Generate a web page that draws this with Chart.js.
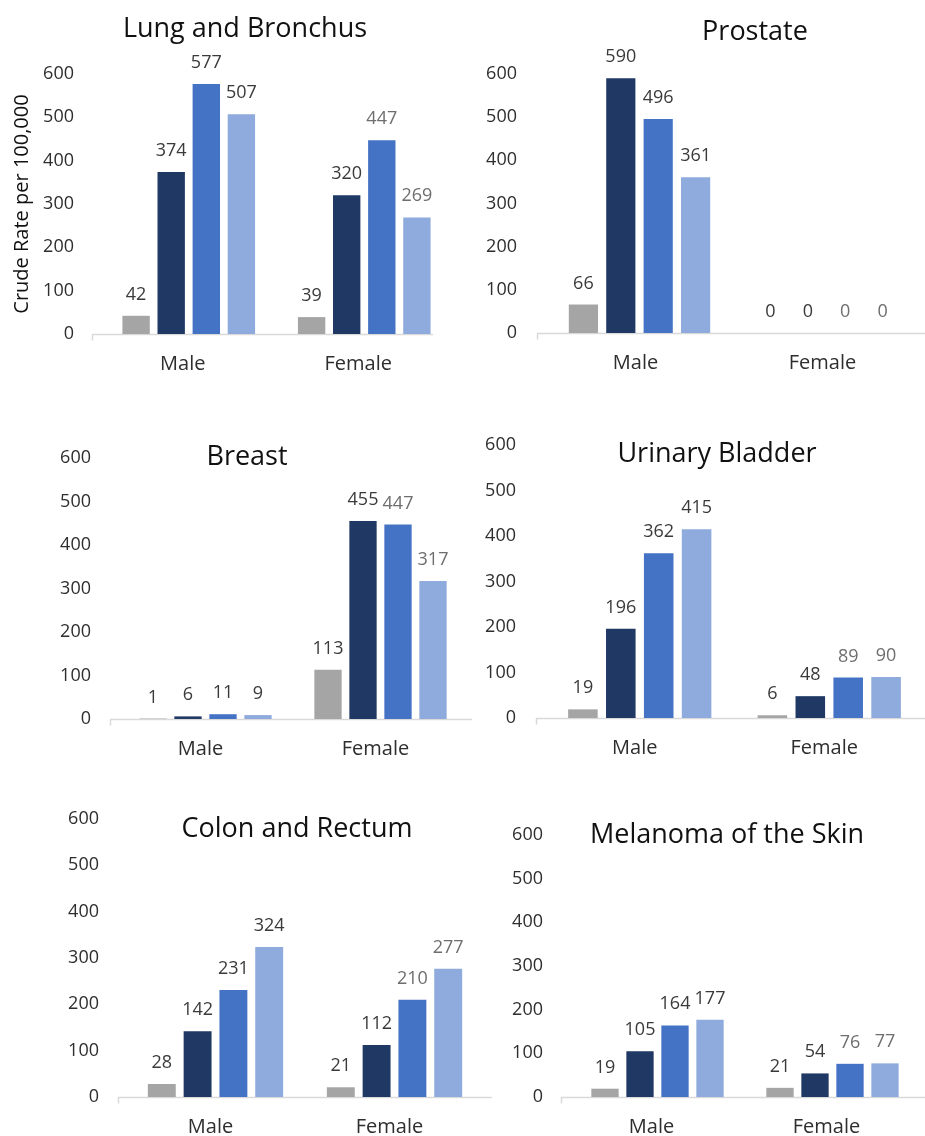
<!DOCTYPE html>
<html>
<head>
<meta charset="utf-8">
<script src="https://cdn.jsdelivr.net/npm/chart.js@4"></script>
<style>
  html, body { margin: 0; background: #fff; overflow: hidden; }
  #wrap { position: relative; width: 925px; height: 1136px; overflow: hidden; }
  #wrap canvas { position: absolute; left: 0; top: 0; }
</style>
</head>
<body>
<div id="wrap">
  <canvas id="c1" width="925" height="1180"></canvas>
  <canvas id="c2" width="925" height="1180"></canvas>
  <canvas id="c3" width="925" height="1180"></canvas>
  <canvas id="c4" width="925" height="1180"></canvas>
  <canvas id="c5" width="925" height="1180"></canvas>
  <canvas id="c6" width="925" height="1180"></canvas>
</div>
<script>
// categories and values (4 series per sex)
const sexes = ['Male', 'Female'];
const yTicks = [0, 100, 200, 300, 400, 500, 600];

const lungMale = [42, 374, 577, 507];
const lungFemale = [39, 320, 447, 269];
const prostateMale = [66, 590, 496, 361];
const prostateFemale = [0, 0, 0, 0];
const breastMale = [1, 6, 11, 9];
const breastFemale = [113, 455, 447, 317];
const bladderMale = [19, 196, 362, 415];
const bladderFemale = [6, 48, 89, 90];
const colonMale = [28, 142, 231, 324];
const colonFemale = [21, 112, 210, 277];
const melanomaMale = [19, 105, 164, 177];
const melanomaFemale = [21, 54, 76, 77];

const seriesColors = ['#a5a5a5', '#203864', '#4472c4', '#8faadc'];
// value label colour per series: [male, female]
const labelColors = [
    ['#3a3a3a', '#3a3a3a'],
    ['#3a3a3a', '#3a3a3a'],
    ['#3a3a3a', '#6e6e6e'],
    ['#3a3a3a', '#6e6e6e']
];

const FONT = "'Open Sans', sans-serif";
const W = 925, H = 1180;

// plot boxes in page pixels
const panels = [
    { id: 'c1', title: 'Lung and Bronchus', male: lungMale, female: lungFemale,
      left: 101, right: 452, top: 74, bottom: 334, axis: [92, 433], tx: 245, ty: 37, offset: -6, pad: 27, yTitle: true },
    { id: 'c2', title: 'Prostate', male: prostateMale, female: prostateFemale,
      left: 546, right: 920, top: 74, bottom: 333, axis: [537, 925], tx: 755, ty: 40, offset: -4, pad: 29 },
    { id: 'c3', title: 'Breast', male: breastMale, female: breastFemale,
      left: 118, right: 468, top: 458, bottom: 719, axis: [110, 472], tx: 247, ty: 465, offset: -5, pad: 27 },
    { id: 'c4', title: 'Urinary Bladder', male: bladderMale, female: bladderFemale,
      left: 545, right: 924, top: 445, bottom: 718, axis: [536, 925], tx: 717, ty: 462, offset: -5, pad: 29 },
    { id: 'c5', title: 'Colon and Rectum', male: colonMale, female: colonFemale,
      left: 126, right: 484, top: 819, bottom: 1097, axis: [118, 492], tx: 297, ty: 837, offset: -5, pad: 27 },
    { id: 'c6', title: 'Melanoma of the Skin', male: melanomaMale, female: melanomaFemale,
      left: 570, right: 920, top: 835, bottom: 1097, axis: [561, 925], tx: 727, ty: 843, offset: -6, pad: 27 }
];

const Y_W = 101;   // fixed y-axis box width
const X_H = 50;    // fixed x-axis box height

// axis line, title and value labels
const decor = {
    id: 'decor',
    beforeDatasetsDraw(chart, args, opts) {
        const ctx = chart.ctx;
        const y0 = Math.round(chart.scales.y.getPixelForValue(0)) + 0.5;
        ctx.save();
        ctx.strokeStyle = '#d9d9d9';
        ctx.lineWidth = 1.5;
        ctx.beginPath();
        ctx.moveTo(opts.axis[0], y0);
        ctx.lineTo(opts.axis[1], y0);
        ctx.moveTo(opts.axis[0] + 0.5, y0);
        ctx.lineTo(opts.axis[0] + 0.5, y0 + 6);
        ctx.stroke();
        ctx.restore();
    },
    afterDraw(chart, args, opts) {
        const ctx = chart.ctx;
        ctx.save();
        ctx.textAlign = 'center';
        ctx.textBaseline = 'alphabetic';
        ctx.fillStyle = '#111';
        ctx.font = "27px " + FONT;
        ctx.fillText(opts.title, opts.tx, opts.ty);

        ctx.font = "18px " + FONT;
        chart.data.datasets.forEach((ds, i) => {
            chart.getDatasetMeta(i).data.forEach((bar, j) => {
                ctx.fillStyle = labelColors[i][j];
                ctx.fillText(String(ds.data[j]), bar.x, bar.y - 16);
            });
        });
        ctx.restore();
    }
};

panels.forEach(p => {
    const datasets = seriesColors.map((color, i) => ({
        data: [p.male[i], p.female[i]],
        backgroundColor: color,
        categoryPercentage: 0.8,
        barPercentage: 0.78
    }));

    new Chart(document.getElementById(p.id), {
        type: 'bar',
        data: { labels: sexes, datasets: datasets },
        options: {
            responsive: false,
            animation: false,
            events: [],
            layout: {
                padding: {
                    left: p.left - Y_W,
                    right: W - p.right,
                    top: p.top,
                    bottom: H - p.bottom - X_H
                }
            },
            plugins: {
                legend: { display: false },
                tooltip: { enabled: false },
                decor: { title: p.title, tx: p.tx, ty: p.ty, axis: p.axis }
            },
            scales: {
                x: {
                    grid: { display: false, drawTicks: false },
                    border: { display: false },
                    ticks: {
                        color: '#2e2e2e',
                        font: { family: FONT, size: 20 },
                        padding: 18,
                        labelOffset: p.offset
                    },
                    afterFit: s => { s.height = X_H; }
                },
                y: {
                    min: 0,
                    max: 600,
                    grid: { display: false, drawTicks: false },
                    border: { display: false },
                    afterBuildTicks: s => { s.ticks = yTicks.map(v => ({ value: v })); },
                    ticks: {
                        color: '#2e2e2e',
                        font: { family: FONT, size: 18 },
                        padding: p.pad
                    },
                    title: {
                        display: !!p.yTitle,
                        text: 'Crude Rate per 100,000',
                        color: '#111',
                        font: { family: FONT, size: 20 },
                        padding: { top: 10, bottom: 0 }
                    },
                    afterFit: s => { s.width = Y_W; }
                }
            }
        },
        plugins: [decor]
    });
});
</script>
</body>
</html>
